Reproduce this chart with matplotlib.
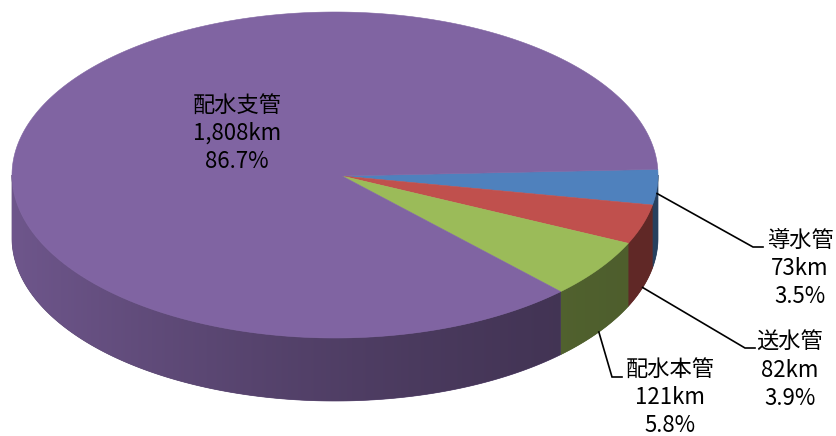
import matplotlib

matplotlib.use("Agg")
import matplotlib.pyplot as plt
import numpy as np
from matplotlib.colors import to_rgb
from matplotlib.patches import Polygon

plt.rcParams["font.family"] = ["Noto Sans CJK JP", "DejaVu Sans"]

# pipe network length by category (km), clockwise from the right edge
categories = ["導水管", "送水管", "配水本管", "配水支管"]
lengths_km = [73, 82, 121, 1808]
share_labels = ["3.5%", "3.9%", "5.8%", "86.7%"]
length_labels = ["73km", "82km", "121km", "1,808km"]

top_colors = ["#4F81BD", "#C0504D", "#9BBB59", "#8064A2"]

# pie geometry in pixel space
CX, CY = 335.0, 175.0
RX, RY = 323.0, 163.0
DEPTH = 63.0
APEX = (342.0, 176.0)
START_DEG = 2.0

# label block: (x centre, first line y), leader line elbow and depth fraction of anchor
label_pos = {
    "導水管": (800, 240),
    "送水管": (790, 342),
    "配水本管": (670, 369),
    "配水支管": (237, 105),
}
leader = {
    "導水管": ((753, 247), 0.1),
    "送水管": ((745, 348), 1.0),
    "配水本管": ((612, 377), 1.0),
}
LINE_STEP = 28.0


def rim(t_deg):
    t = np.radians(t_deg)
    return CX + RX * np.cos(t), CY - RY * np.sin(t)


def side_shade(x):
    # lighter on the left of the wall, darker to the right
    u = np.clip((x - (CX - RX)) / (2 * RX), 0, 1)
    return 0.5 + 0.36 * (1 - u) ** 1.5


def main():
    fig = plt.figure(figsize=(8.37, 4.36), dpi=100)
    ax = fig.add_axes([0, 0, 1, 1])
    ax.set_xlim(0, 837)
    ax.set_ylim(436, 0)
    ax.axis("off")

    total = float(sum(lengths_km))
    spans = [360.0 * v / total for v in lengths_km]
    bounds = []
    t = START_DEG
    for s in spans:
        bounds.append((t, t - s))
        t -= s

    # outer wall, front half only, with a horizontal gradient clipped to each slice
    xs = np.linspace(CX - RX, CX + RX, 400)
    shade = side_shade(xs)
    for (t_hi, t_lo), col in zip(bounds, top_colors):
        hi = min(t_hi, 0.0)
        lo = max(t_lo, -180.0)
        if hi <= lo:
            continue
        base = np.array(to_rgb(col))
        ts = np.linspace(lo, hi, int((hi - lo) / 0.5) + 3)
        top = [rim(v) for v in ts]
        bottom = [(x, y + DEPTH) for x, y in top[::-1]]
        mid = np.clip(base * side_shade(np.mean([p[0] for p in top])), 0, 1)
        wall = Polygon(top + bottom, closed=True, facecolor=mid, edgecolor=mid, linewidth=0.5)
        ax.add_patch(wall)
        grad = np.clip(base[None, None, :] * shade[None, :, None], 0, 1)
        im = ax.imshow(grad, extent=(CX - RX, CX + RX, CY + RY + DEPTH, CY - RY),
                       aspect="auto", interpolation="bilinear", zorder=2)
        im.set_clip_path(wall)
    ax.set_xlim(0, 837)
    ax.set_ylim(436, 0)

    # top face
    for (t_hi, t_lo), col in zip(bounds, top_colors):
        ts = np.linspace(t_hi, t_lo, max(3, int((t_hi - t_lo) / 0.5) + 2))
        pts = [APEX] + [rim(v) for v in ts]
        ax.add_patch(Polygon(pts, closed=True, facecolor=col, edgecolor=col,
                             linewidth=0.4, zorder=3))

    # labels and leader lines
    for name, (t_hi, t_lo), ln, sh in zip(categories, bounds, length_labels, share_labels):
        x0, y0 = label_pos[name]
        for i, s in enumerate([name, ln, sh]):
            ax.text(x0, y0 + i * LINE_STEP, s, ha="center", va="center",
                    fontsize=16, color="#000000", zorder=5)
        if name in leader:
            (ex, ey), frac = leader[name]
            mx, my = rim(0.5 * (t_hi + t_lo))
            ax.plot([mx, ex, ex + 10], [my + frac * DEPTH, ey, ey], color="black", lw=1.2,
                    solid_joinstyle="miter", zorder=4)

    fig.savefig("out.png", dpi=100)
    plt.close(fig)


if __name__ == "__main__":
    main()
